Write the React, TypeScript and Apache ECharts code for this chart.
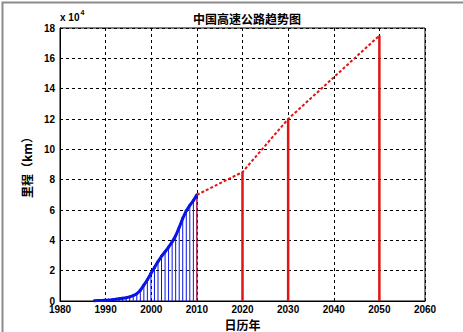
import React, { useEffect, useRef } from "react";
import * as echarts from "echarts";

const titleText = "中国高速公路趋势图";
const xName = "日历年";
const yName = "里程（km）";

// historical (blue), unit: 10^4 km
const blueYears = [
  1987.53, 1988.3, 1989.08, 1989.85, 1990.63, 1991.4, 1992.18, 1992.95, 1993.73, 1994.5,
  1995.28, 1996.05, 1996.83, 1997.6, 1998.38, 1999.15, 1999.93, 2000.7, 2001.48, 2002.25,
  2003.03, 2003.8, 2004.58, 2005.35, 2006.13, 2006.9, 2007.68, 2008.45, 2009.23, 2010.0,
];
const blueValues = [
  0.02, 0.03, 0.04, 0.05, 0.06, 0.08, 0.11, 0.15, 0.18, 0.21,
  0.27, 0.36, 0.48, 0.7, 1.05, 1.4, 1.82, 2.2, 2.6, 2.95,
  3.25, 3.55, 3.9, 4.3, 4.85, 5.45, 5.95, 6.3, 6.62, 7.0,
];

// forecast (red)
const redYears = [2010, 2020, 2030, 2050];
const redValues = [7.0, 8.5, 12.0, 17.5];
const redStemYears = [2020, 2030, 2050];
const redStemValues = [8.5, 12.0, 17.5];

const xTicks = { min: 1980, max: 2060, interval: 10 };
const yTicks = { min: 0, max: 18, interval: 2 };

const BLUE = "#0a14e6";
const RED = "#e01414";

function stemSeries(name: string, xs: number[], ys: number[], color: string, width: number) {
  return {
    type: "custom",
    name,
    data: xs.map((x, i) => [x, ys[i]]),
    z: 3,
    renderItem: (params: any, api: any) => {
      const p0 = api.coord([api.value(0), 0]);
      const p1 = api.coord([api.value(0), api.value(1)]);
      return {
        type: "line",
        shape: { x1: p0[0], y1: p0[1], x2: p1[0], y2: p1[1] },
        style: { stroke: color, lineWidth: width },
      };
    },
  };
}

export default function App() {
  const ref = useRef<HTMLDivElement>(null);
  useEffect(() => {
    document.body.style.margin = "0";
    const chart = echarts.init(ref.current!, null, { renderer: "svg" });
    const labelFont = {
      fontFamily: "Liberation Sans, Arial, sans-serif",
      fontWeight: "bold" as const,
      fontSize: 10,
      color: "#000",
    };
    chart.setOption({
      animation: false,
      backgroundColor: "#fff",
      title: {
        text: titleText,
        left: 242,
        textAlign: "center",
        top: 7,
        textStyle: {
          fontFamily: "Noto Sans CJK SC",
          fontWeight: "bold",
          fontSize: 12,
          color: "#000",
        },
      },
      grid: {
        left: 60, right: 38, top: 28, bottom: 31,
        containLabel: false, outerBoundsMode: "none",
        show: true, borderColor: "#000", borderWidth: 1, backgroundColor: "#fff",
      },
      xAxis: {
        type: "value",
        min: xTicks.min,
        max: xTicks.max,
        interval: xTicks.interval,
        name: xName,
        nameLocation: "middle",
        nameGap: 14,
        nameTextStyle: { fontFamily: "Noto Sans CJK SC", fontWeight: "bold", fontSize: 12, color: "#000" },
        axisLine: { show: true, onZero: false, lineStyle: { color: "#000", width: 1 } },
        axisTick: { show: true, inside: true, length: 3, lineStyle: { color: "#000" } },
        axisLabel: { ...labelFont, margin: 3, formatter: (v: number) => String(v) },
        splitLine: { show: true, lineStyle: { color: "#000", type: [3, 3], width: 1 } },
      },
      yAxis: {
        type: "value",
        min: yTicks.min,
        max: yTicks.max,
        interval: yTicks.interval,
        name: yName,
        nameLocation: "middle",
        nameGap: 20,
        nameRotate: 90,
        nameTextStyle: { fontFamily: "Noto Sans CJK SC", fontWeight: "bold", fontSize: 12, color: "#000" },
        axisLine: { show: true, lineStyle: { color: "#000", width: 1 } },
        axisTick: { show: true, inside: true, length: 3, lineStyle: { color: "#000" } },
        axisLabel: { ...labelFont, margin: 5, formatter: (v: number) => String(v) },
        splitLine: { show: true, lineStyle: { color: "#000", type: [3, 3], width: 1 } },
      },
      graphic: [
        {
          type: "text",
          left: 60,
          top: 9,
          style: {
            text: "{a|x 10}{b|4}",
            rich: {
              a: { fontFamily: "Liberation Sans, Arial", fontWeight: "bold", fontSize: 10, fill: "#000", verticalAlign: "bottom" },
              b: { fontFamily: "Liberation Sans, Arial", fontWeight: "bold", fontSize: 7, fill: "#000", verticalAlign: "top", padding: [0, 0, 6, 1] },
            },
          },
        },
        {
          type: "rect",
          left: 0,
          top: 0,
          shape: { width: 462, height: 331 },
          style: { fill: "none", stroke: "#8c8c8c", lineWidth: 2 },
          z: 100,
        },
      ],
      series: [
        stemSeries("blueStems", blueYears, blueValues, BLUE, 1),
        stemSeries("redStem2010", [redYears[0]], [redValues[0]], RED, 1),
        stemSeries("redStems", redStemYears, redStemValues, RED, 2.5),
        {
          type: "line",
          name: "history",
          data: blueYears.map((x, i) => [x, blueValues[i]]),
          showSymbol: true,
          symbol: "circle",
          symbolSize: 3,
          itemStyle: { color: BLUE },
          lineStyle: { color: BLUE, width: 3 },
          z: 4,
        },
        {
          type: "line",
          name: "forecast",
          data: redYears.map((x, i) => [x, redValues[i]]),
          showSymbol: false,
          lineStyle: { color: RED, width: 2, type: [3, 2] },
          z: 5,
        },
      ],
    });
    return () => chart.dispose();
  }, []);
  return <div ref={ref} style={{ width: 463, height: 332, position: "absolute", left: 0, top: 0 }} />;
}
